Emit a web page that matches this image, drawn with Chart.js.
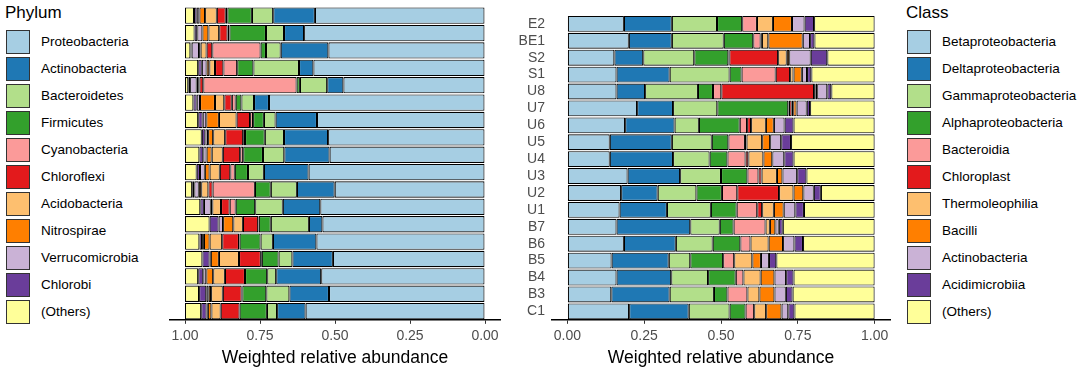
<!DOCTYPE html>
<html><head><meta charset="utf-8">
<script src="https://cdn.jsdelivr.net/npm/chart.js@4.4.0/dist/chart.umd.min.js"></script>
<style>
html,body{margin:0;padding:0;background:#fff;}
body{width:1084px;height:371px;position:relative;overflow:hidden;font-family:"Liberation Sans",Arial,sans-serif;}
canvas{position:absolute;top:0;}
#leftChart{left:160px;}
#rightChart{left:508px;}
.legend{position:absolute;top:0;width:180px;height:371px;}
.legend .ttl{position:absolute;left:0;top:3px;font-size:17px;line-height:20px;color:#000;}
.legend .item{position:absolute;left:0;height:24px;width:180px;}
.legend .box{position:absolute;left:1px;top:0;width:22px;height:22px;border:1px solid #333;}
.legend .lbl{position:absolute;left:36px;top:4px;font-size:13.5px;line-height:16px;color:#000;white-space:nowrap;}
#legL{left:5px;}
#legR{left:906px;}
</style>
</head><body>
<div id="legL" class="legend"></div>
<div id="legR" class="legend"></div>
<canvas id="leftChart" width="350" height="371"></canvas>
<canvas id="rightChart" width="386" height="371"></canvas>
<script>
// ---------- data ----------
const samples = ['E2','BE1','S2','S1','U8','U7','U6','U5','U4','U3','U2','U1','B7','B6','B5','B4','B3','C1'];
const xTicks = [0, 0.25, 0.5, 0.75, 1];

// Phylum (order: E2 ... C1)
const phylumNames = ['Proteobacteria','Actinobacteria','Bacteroidetes','Firmicutes','Cyanobacteria','Chloroflexi','Acidobacteria','Nitrospirae','Verrucomicrobia','Chlorobi','(Others)'];
const proteobacteria  = [0.567,0.603,0.522,0.572,0.472,0.720,0.560,0.523,0.518,0.588,0.501,0.549,0.542,0.562,0.507,0.546,0.520,0.598];
const actinobacteriaP = [0.139,0.067,0.159,0.048,0.054,0.050,0.138,0.147,0.151,0.149,0.126,0.125,0.045,0.145,0.135,0.150,0.132,0.095];
const bacteroidetes   = [0.071,0.060,0.049,0.152,0.091,0.042,0.039,0.064,0.071,0.053,0.087,0.092,0.127,0.041,0.046,0.030,0.077,0.034];
const firmicutes      = [0.082,0.122,0.018,0.054,0.011,0.019,0.036,0.066,0.066,0.044,0.053,0.065,0.040,0.070,0.056,0.074,0.080,0.091];
const cyanobacteria   = [0.005,0.006,0.161,0.046,0.311,0.013,0.010,0.006,0.010,0.015,0.141,0.020,0.002,0.002,0.003,0.000,0.002,0.000];
const chloroflexi     = [0.030,0.028,0.019,0.028,0.013,0.025,0.045,0.060,0.058,0.035,0.014,0.029,0.051,0.056,0.073,0.067,0.063,0.063];
const acidobacteria   = [0.039,0.036,0.020,0.019,0.004,0.031,0.059,0.040,0.037,0.034,0.024,0.029,0.032,0.042,0.067,0.039,0.039,0.031];
const nitrospirae     = [0.019,0.020,0.005,0.009,0.005,0.050,0.042,0.017,0.017,0.016,0.008,0.005,0.034,0.019,0.027,0.023,0.008,0.012];
const verrucomicrobia = [0.009,0.017,0.025,0.016,0.022,0.011,0.012,0.009,0.011,0.016,0.015,0.023,0.015,0.006,0.004,0.010,0.008,0.004];
const chlorobi        = [0.009,0.009,0.004,0.012,0.006,0.011,0.015,0.012,0.013,0.011,0.007,0.012,0.030,0.009,0.024,0.017,0.024,0.018];
const othersPhylum    = [0.030,0.032,0.018,0.044,0.011,0.028,0.044,0.056,0.048,0.039,0.024,0.051,0.082,0.048,0.058,0.044,0.047,0.054];
const phylumValues = [proteobacteria,actinobacteriaP,bacteroidetes,firmicutes,cyanobacteria,chloroflexi,acidobacteria,nitrospirae,verrucomicrobia,chlorobi,othersPhylum];

// Class (order: E2 ... C1)
const classNames = ['Betaproteobacteria','Deltaproteobacteria','Gammaproteobacteria','Alphaproteobacteria','Bacteroidia','Chloroplast','Thermoleophilia','Bacilli','Actinobacteria','Acidimicrobiia','(Others)'];
const betaproteobacteria  = [0.184,0.200,0.153,0.160,0.160,0.227,0.188,0.138,0.138,0.196,0.175,0.170,0.160,0.184,0.144,0.160,0.143,0.201];
const deltaproteobacteria = [0.156,0.140,0.094,0.173,0.093,0.117,0.161,0.202,0.206,0.171,0.119,0.154,0.240,0.169,0.186,0.178,0.190,0.194];
const gammaproteobacteria = [0.147,0.169,0.166,0.195,0.172,0.144,0.079,0.130,0.119,0.133,0.126,0.143,0.096,0.120,0.070,0.120,0.144,0.133];
const alphaproteobacteria = [0.082,0.096,0.111,0.039,0.049,0.231,0.133,0.054,0.058,0.086,0.083,0.084,0.045,0.090,0.107,0.090,0.044,0.052];
const bacteroidia         = [0.048,0.024,0.003,0.111,0.027,0.002,0.024,0.054,0.059,0.036,0.050,0.067,0.104,0.033,0.036,0.025,0.065,0.028];
const chloroplast         = [0.000,0.004,0.159,0.047,0.302,0.009,0.013,0.005,0.009,0.010,0.136,0.016,0.000,0.000,0.000,0.000,0.000,0.000];
const thermoleophilia     = [0.052,0.021,0.028,0.011,0.004,0.005,0.048,0.051,0.049,0.050,0.047,0.038,0.014,0.059,0.059,0.056,0.039,0.039];
const bacilli             = [0.062,0.112,0.008,0.027,0.006,0.011,0.026,0.026,0.029,0.018,0.032,0.032,0.018,0.047,0.028,0.045,0.049,0.050];
const actinobacteriaC     = [0.041,0.024,0.070,0.017,0.033,0.033,0.035,0.036,0.039,0.048,0.034,0.038,0.011,0.037,0.026,0.038,0.037,0.022];
const acidimicrobiia      = [0.031,0.014,0.054,0.014,0.013,0.011,0.029,0.032,0.030,0.030,0.023,0.028,0.013,0.028,0.024,0.024,0.022,0.020];
const othersClass         = [0.197,0.196,0.154,0.206,0.141,0.210,0.264,0.272,0.264,0.222,0.175,0.230,0.299,0.233,0.320,0.264,0.267,0.261];
const classValues = [betaproteobacteria,deltaproteobacteria,gammaproteobacteria,alphaproteobacteria,bacteroidia,chloroplast,thermoleophilia,bacilli,actinobacteriaC,acidimicrobiia,othersClass];

// ---------- style ----------
const palette = ['#A6CEE3','#1F78B4','#B2DF8A','#33A02C','#FB9A99','#E31A1C','#FDBF6F','#FF7F00','#CAB2D6','#6A3D9A','#FFFF99'];
const FONT = '"Liberation Sans", Arial, sans-serif';

function buildLegend(id, title, names){
  const el = document.getElementById(id);
  let html = '<div class="ttl">'+title+'</div>';
  names.forEach((n,i)=>{
    html += '<div class="item" style="top:'+(30+27*i)+'px"><div class="box" style="background:'+palette[i]+'"></div><div class="lbl">'+n+'</div></div>';
  });
  el.innerHTML = html;
}
buildLegend('legL','Phylum',phylumNames);
buildLegend('legR','Class',classNames);

function makeDatasets(names, values){
  return names.map((n,i)=>({
    label:n, data:values[i], backgroundColor:palette[i],
    borderColor:'#000', borderWidth:1.1, borderSkipped:false,
    barPercentage:0.94, categoryPercentage:1.0
  }));
}

function xScale(reverse){
  return {
    stacked:true, min:-0.05, max:1.05, reverse:reverse,
    afterBuildTicks: a => { a.ticks = xTicks.map(v=>({value:v})); },
    ticks:{callback:v=>Number(v).toFixed(2), color:'#4d4d4d', font:{size:14,family:FONT}, padding:4, maxRotation:0, autoSkip:false},
    grid:{drawOnChartArea:false, drawTicks:true, tickLength:4, color:'#333', lineWidth:1},
    border:{display:true, color:'#000', width:1.5},
    title:{display:true, text:'Weighted relative abundance', color:'#000', font:{size:17.5,family:FONT,lineHeight:1.05}, padding:{top:0,bottom:0}}
  };
}

new Chart(document.getElementById('leftChart'), {
  type:'bar',
  data:{labels:samples, datasets:makeDatasets(phylumNames, phylumValues)},
  options:{
    indexAxis:'y', responsive:false, animation:false,
    layout:{padding:{left:10,right:10,top:7,bottom:4}},
    plugins:{legend:{display:false}, tooltip:{enabled:false}},
    scales:{ x:xScale(true), y:{stacked:true, display:false} }
  }
});

new Chart(document.getElementById('rightChart'), {
  type:'bar',
  data:{labels:samples, datasets:makeDatasets(classNames, classValues)},
  options:{
    indexAxis:'y', responsive:false, animation:false,
    layout:{padding:{left:0,right:4,top:7,bottom:4}},
    plugins:{legend:{display:false}, tooltip:{enabled:false}},
    scales:{
      x:xScale(false),
      y:{stacked:true, afterFit:s=>{s.width=44;},
         ticks:{color:'#4d4d4d', font:{size:14,family:FONT}, padding:7, autoSkip:false},
         grid:{display:false, drawTicks:false}, border:{display:false}}
    }
  }
});
</script>
</body></html>
